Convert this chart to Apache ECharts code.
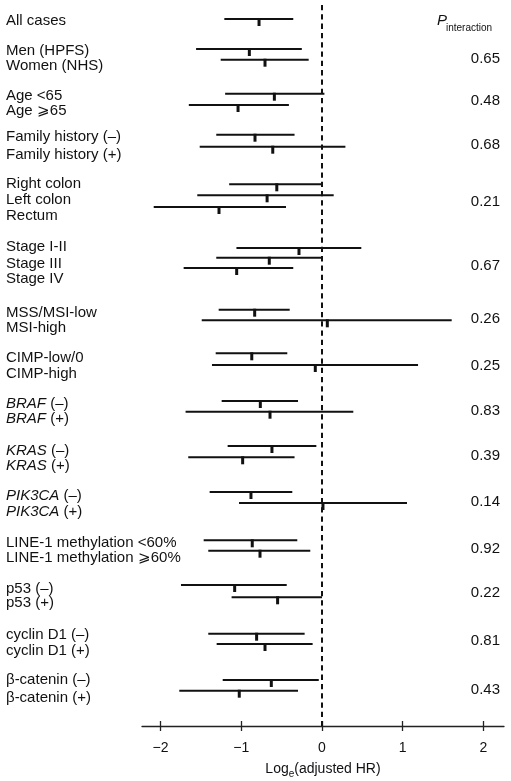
<!DOCTYPE html>
<html><head><meta charset="utf-8">
<script src="https://cdn.jsdelivr.net/npm/echarts@6/dist/echarts.min.js"></script>
<style>html,body{margin:0;padding:0;background:#fff}#c{width:511px;height:781px}</style>
</head><body><div id="c"></div>
<script>
const FONT = '"Liberation Sans", Arial, Helvetica, sans-serif';

const labels = ['All cases','Men (HPFS)','Women (NHS)','Age <65','Age \u2A7E65','Family history (\u2013)','Family history (+)',
  'Right colon','Left colon','Rectum','Stage I-II','Stage III','Stage IV','MSS/MSI-low','MSI-high','CIMP-low/0','CIMP-high',
  '{i|BRAF} (\u2013)','{i|BRAF} (+)','{i|KRAS} (\u2013)','{i|KRAS} (+)','{i|PIK3CA} (\u2013)','{i|PIK3CA} (+)',
  'LINE-1 methylation <60%','LINE-1 methylation \u2A7E60%','p53 (\u2013)','p53 (+)','cyclin D1 (\u2013)','cyclin D1 (+)',
  '\u03B2-catenin (\u2013)','\u03B2-catenin (+)'];
const est = [-0.78,-0.90,-0.706,-0.59,-1.04,-0.83,-0.61,-0.56,-0.68,-1.276,-0.285,-0.653,-1.057,-0.834,0.066,-0.87,-0.083,
  -0.764,-0.644,-0.62,-0.983,-0.88,0.012,-0.864,-0.768,-1.082,-0.55,-0.81,-0.706,-0.628,-1.025];
const lo = [-1.21,-1.56,-1.255,-1.20,-1.65,-1.31,-1.515,-1.15,-1.545,-2.085,-1.06,-1.31,-1.714,-1.28,-1.49,-1.317,-1.363,
  -1.243,-1.69,-1.169,-1.657,-1.392,-1.028,-1.466,-1.409,-1.747,-1.12,-1.409,-1.305,-1.23,-1.768];
const hi = [-0.356,-0.25,-0.165,0.03,-0.41,-0.34,0.29,0.0,0.145,-0.446,0.487,0.0,-0.356,-0.40,1.607,-0.43,1.19,
  -0.297,0.388,-0.07,-0.34,-0.368,1.053,-0.306,-0.145,-0.437,0.0,-0.215,-0.116,-0.04,-0.297];
// vertical row positions (row scale units, top = 0)
const rowPos = [1.9,4.9,5.97,9.37,10.5,13.47,14.67,18.43,19.53,20.7,24.8,25.77,26.8,30.97,32.03,35.33,36.5,
  40.1,41.17,44.6,45.73,49.2,50.3,54.03,55.07,58.5,59.73,63.37,64.4,68.0,69.07];
const labelPos = [1.9,4.9,6.4,9.4,10.93,13.5,15.33,18.23,19.83,21.43,24.5,26.27,27.77,31.13,32.63,35.63,37.23,
  40.27,41.77,44.93,46.43,49.47,51.07,54.1,55.6,58.73,60.17,63.3,64.9,67.83,69.67];
const pValues = ['0.65','0.48','0.68','0.21','0.67','0.26','0.25','0.83','0.39','0.14','0.92','0.22','0.81','0.43'];
const pPos = [5.7,9.9,14.33,20.0,26.43,31.73,36.4,40.93,45.4,50.07,54.77,59.17,63.93,68.83];
const xTicks = [-2,-1,0,1,2];
const xMin = -2.23, xMax = 2.255;
const yMax = 72.6;

const chart = echarts.init(document.getElementById('c'));
const ciData = est.map((e,i)=>[lo[i],hi[i],e,rowPos[i]]);
const labelData = labelPos.map(p=>[0,p]);
const pData = pPos.map(p=>[0,p]);
const TEXT_NUDGE = 1.5; // visual centring of cap-height text

const option = {
  animation:false,
  backgroundColor:'#fff',
  grid:{left:142,right:7,top:0,bottom:55,outerBoundsMode:'none',containLabel:false},
  xAxis:[{
    type:'value',min:xMin,max:xMax,position:'bottom',gridIndex:0,
    splitLine:{show:false},
    axisLine:{onZero:false,lineStyle:{color:'#222',width:1.3}},
    axisTick:{customValues:xTicks,length:5,lineStyle:{color:'#222',width:1.3}},
    axisLabel:{customValues:xTicks,fontSize:14,color:'#111',fontFamily:FONT,margin:15,
      formatter:v=> v<0 ? '\u2212'+Math.abs(v) : String(v)},
    name:'{a|Log}{b|e}{a|(adjusted HR)}',nameLocation:'middle',nameGap:33,
    nameTextStyle:{rich:{a:{fontSize:14,fontFamily:FONT,color:'#111',lineHeight:20},
      b:{fontSize:10,fontFamily:FONT,color:'#111',lineHeight:20,verticalAlign:'bottom'}}}
  },{
    type:'value',min:xMin,max:xMax,position:'bottom',gridIndex:0,offset:0,
    splitLine:{show:false},axisLine:{show:false,onZero:false},axisLabel:{show:false},
    axisTick:{inside:true,customValues:xTicks,length:5,lineStyle:{color:'#222',width:1.3}}
  }],
  yAxis:{type:'value',min:0,max:yMax,inverse:true,show:false},
  graphic:[
    {type:'text',left:437,top:13,style:{text:'P',font:'italic 15px '+FONT,fill:'#111'}},
    {type:'text',left:446,top:23,style:{text:'interaction',font:'10px '+FONT,fill:'#111'}}
  ],
  series:[{
    type:'custom',
    data:ciData,
    clip:false,
    renderItem:(params,api)=>{
      const y = api.value(3);
      const p1 = api.coord([api.value(0),y]);
      const p2 = api.coord([api.value(1),y]);
      const pe = api.coord([api.value(2),y]);
      return {type:'group',children:[
        {type:'line',shape:{x1:p1[0],y1:p1[1],x2:p2[0],y2:p2[1]},style:{stroke:'#111',lineWidth:2}},
        {type:'rect',shape:{x:pe[0]-1.5,y:pe[1]-1,width:3,height:8},style:{fill:'#111'}}
      ]};
    },
    markLine:{silent:true,symbol:['none','none'],label:{show:false},
      lineStyle:{color:'#111',width:2,type:[5.3,4]},
      data:[[{coord:[0,0.5]},{coord:[0,yMax]}]]}
  },{
    type:'custom',
    data:labelData,
    clip:false,
    renderItem:(params,api)=>{
      const y = api.coord([0,api.value(1)])[1] + TEXT_NUDGE;
      return {type:'text',x:6,y:y,style:{text:labels[params.dataIndex],fontSize:15,fontFamily:FONT,fill:'#111',
        verticalAlign:'middle',align:'left',
        rich:{i:{fontSize:15,fontFamily:FONT,fontStyle:'italic',fill:'#111'}}}};
    }
  },{
    type:'custom',
    data:pData,
    clip:false,
    renderItem:(params,api)=>{
      const y = api.coord([0,api.value(1)])[1] + TEXT_NUDGE;
      return {type:'text',x:500,y:y,style:{text:pValues[params.dataIndex],fontSize:15,fontFamily:FONT,fill:'#111',
        verticalAlign:'middle',align:'right'}};
    }
  }]
};
chart.setOption(option);
</script></body></html>
